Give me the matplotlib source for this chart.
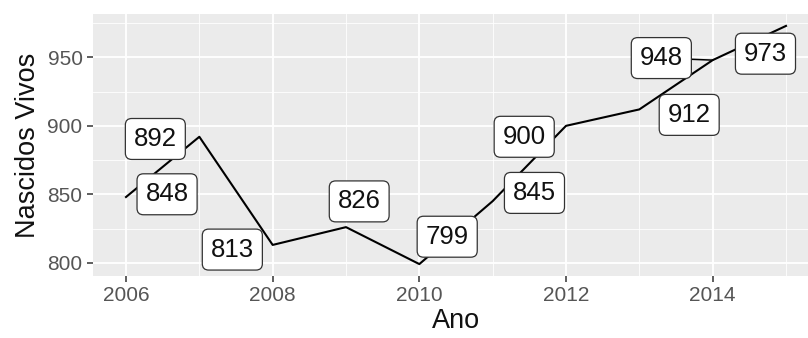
import matplotlib
matplotlib.use("Agg")
import matplotlib.pyplot as plt
from matplotlib.ticker import MultipleLocator

anos = [2006, 2007, 2008, 2009, 2010, 2011, 2012, 2013, 2014, 2015]
nascidos = [848, 892, 813, 826, 799, 845, 900, 912, 948, 973]
# repelled label positions (data units)
label_x = [2006.56, 2006.40, 2007.45, 2009.18, 2010.38, 2011.57, 2011.43, 2013.68, 2013.30, 2014.72]
label_y = [850.0, 890.4, 809.6, 844.8, 819.0, 851.0, 892.0, 908.0, 949.5, 952.7]
# labels whose leader segment is visible
com_segmento = [False, False, False, False, False, False, False, False, True, False]

plt.rcParams['font.family'] = ['Liberation Sans', 'DejaVu Sans']

fig = plt.figure(figsize=(8.08, 3.38), dpi=100)
ax = fig.add_axes([93/808, 1 - 276/338, 726/808, 262/338])
ax.set_facecolor('#EBEBEB')
for s in ax.spines.values():
    s.set_visible(False)

ax.set_xlim(2005.55, 2015.45)
ax.set_ylim(790.3, 981.7)
ax.xaxis.set_major_locator(MultipleLocator(2))
ax.xaxis.set_minor_locator(MultipleLocator(1))
ax.yaxis.set_major_locator(MultipleLocator(50))
ax.yaxis.set_minor_locator(MultipleLocator(25))
ax.grid(which='major', color='white', linewidth=1.3)
ax.grid(which='minor', color='white', linewidth=0.6)
ax.set_axisbelow(True)
ax.tick_params(which='major', length=4, width=1.1, color='#333333',
               labelcolor='#555555', labelsize=15, pad=3.5)
ax.tick_params(which='minor', length=0)

ax.plot(anos, nascidos, color='black', linewidth=1.5, zorder=3)

for x, y, lx, ly, seg in zip(anos, nascidos, label_x, label_y, com_segmento):
    if seg:
        ax.plot([x, lx], [y, ly], color='black', linewidth=1.1, zorder=3)
    ax.text(lx, ly, str(y), ha='center', va='center', fontsize=18.5, color='#111111',
            zorder=5,
            bbox=dict(boxstyle='round,pad=0.33,rounding_size=0.25', facecolor='white',
                      edgecolor='#333333', linewidth=0.9))

ax.set_xlabel('Ano', fontsize=19.5, color='#111111', labelpad=2)
ax.set_ylabel('Nascidos Vivos', fontsize=19.5, color='#111111', labelpad=5)

fig.savefig('out.png', dpi=100)
